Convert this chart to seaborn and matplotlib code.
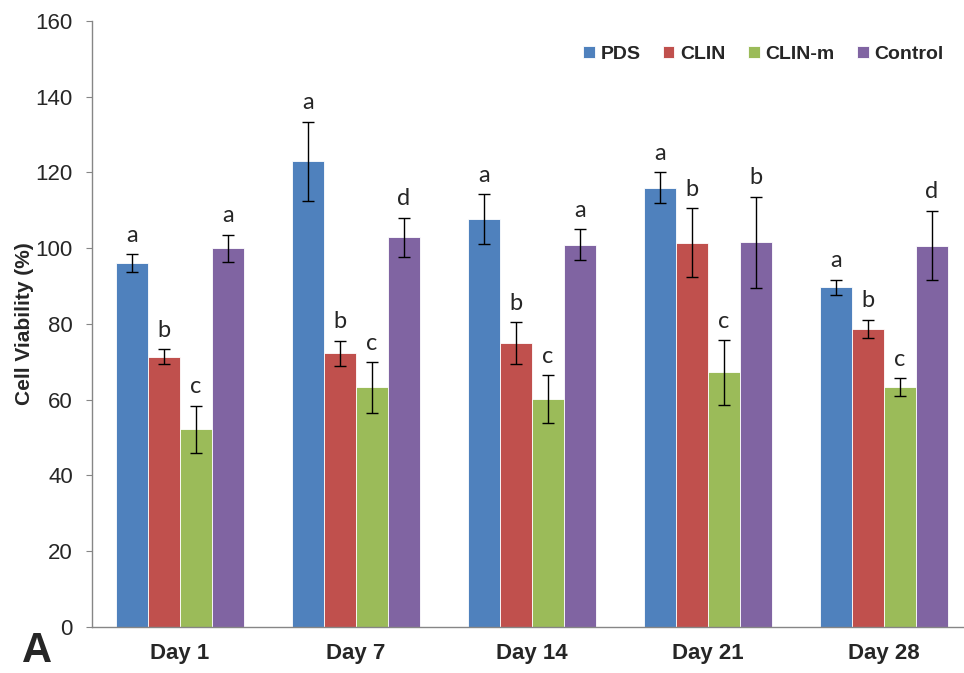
import numpy as np
import pandas as pd
import matplotlib
matplotlib.use("Agg")
import matplotlib.pyplot as plt
import seaborn as sns

# Данные
days = ["Day 1", "Day 7", "Day 14", "Day 21", "Day 28"]
groups = ["PDS", "CLIN", "CLIN-m", "Control"]

pds = [96.0, 123.0, 107.7, 116.0, 89.7]
clin = [71.4, 72.3, 74.9, 101.5, 78.7]
clin_m = [52.2, 63.3, 60.1, 67.2, 63.4]
control = [100.0, 102.9, 100.9, 101.6, 100.7]

pds_err = [2.4, 10.4, 6.5, 4.0, 2.0]
clin_err = [2.0, 3.3, 5.5, 9.0, 2.4]
clin_m_err = [6.2, 6.7, 6.3, 8.5, 2.3]
control_err = [3.6, 5.2, 4.1, 12.0, 9.2]

pds_letters = ["a", "a", "a", "a", "a"]
clin_letters = ["b", "b", "b", "b", "b"]
clin_m_letters = ["c", "c", "c", "c", "c"]
control_letters = ["a", "d", "a", "b", "d"]

colors = ["#4F81BD", "#C0504D", "#9BBB59", "#8064A2"]

values = [pds, clin, clin_m, control]
errors = [pds_err, clin_err, clin_m_err, control_err]
letters = [pds_letters, clin_letters, clin_m_letters, control_letters]

rows = []
for g, vals in zip(groups, values):
    for d, v in zip(days, vals):
        rows.append({"Day": d, "Group": g, "Viability": v})
df = pd.DataFrame(rows)

sns.set_style("white")
plt.rcParams["font.family"] = ["Liberation Sans", "DejaVu Sans"]

fig = plt.figure(figsize=(9.64, 6.73), dpi=100)
ax = fig.add_axes([0.0954, 0.0684, 0.9129, 0.9004])

sns.barplot(data=df, x="Day", y="Viability", hue="Group", order=days,
            hue_order=groups, palette=colors, errorbar=None, width=0.727,
            edgecolor="white", linewidth=0.6, saturation=1, ax=ax)

# Планки погрешностей и буквы
for cont, err, lets in zip(ax.containers, errors, letters):
    xs = [b.get_x() + b.get_width() / 2 for b in cont]
    ys = [b.get_height() for b in cont]
    ax.errorbar(xs, ys, yerr=err, fmt="none", ecolor="black",
                elinewidth=1, capsize=4.5, capthick=1)
    for x, y, e, t in zip(xs, ys, err, lets):
        ax.annotate(t, (x, y + e), xytext=(0, 6), textcoords="offset points",
                    ha="center", va="bottom", fontsize=17, family="Lato")

ax.set_xlim(-0.5, 4.5)
ax.set_ylim(0, 160)
ax.set_yticks(range(0, 161, 20))
ax.set_xlabel("")
ax.set_ylabel("Cell Viability (%)", fontsize=15, fontweight="bold")
ax.yaxis.set_label_coords(-0.066, 0.5)

for s in ["top", "right"]:
    ax.spines[s].set_visible(False)
for s in ["left", "bottom"]:
    ax.spines[s].set_color("#868686")
    ax.spines[s].set_linewidth(1)

ax.tick_params(axis="y", which="both", left=True, length=4.3, color="#868686",
               labelsize=16, pad=9.5)
ax.tick_params(axis="x", bottom=False, labelsize=16, pad=8)
for lab in ax.get_xticklabels():
    lab.set_fontweight("bold")

leg = ax.legend(loc="upper left", bbox_to_anchor=(0.538, 0.988), ncol=4,
                frameon=False, handlelength=0.6, handleheight=0.6,
                handletextpad=0.3, columnspacing=1.15,
                prop={"weight": "bold", "size": 14})

fig.text(0.023, 0.016, "A", fontsize=30, fontweight="bold")

fig.savefig("out.png", dpi=100)
